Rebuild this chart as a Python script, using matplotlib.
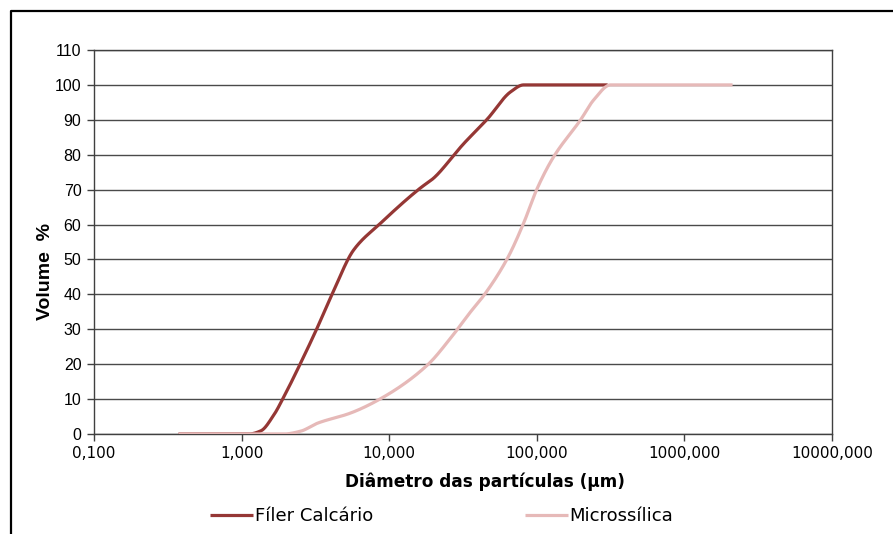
import numpy as np
import matplotlib.pyplot as plt
from matplotlib.lines import Line2D
from matplotlib.ticker import FixedLocator, NullLocator

# particle diameter (µm) and cumulative volume (%)
filer_d = [0.374, 0.8, 1.0, 1.12, 1.35, 1.65, 1.93, 2.51, 3.22, 4.14, 5.74,
           8.75, 16.3, 20.0, 26.9, 30.5, 46.4, 66.4, 81.4, 302]
filer_v = [0, 0, 0, 0, 0.9, 5.4, 10.6, 20.3, 30, 40.4, 52.7,
           60.4, 70.5, 73.3, 79.4, 82.2, 90.3, 98, 100, 100]

micro_d = [0.374, 1.93, 2.51, 3.27, 5.47, 9.16, 18.2, 26.1, 35.6, 44.3,
           63.4, 81.4, 101, 130, 198, 243, 316, 2120]
micro_v = [0, 0, 0.8, 3.1, 6, 10.6, 19.8, 27.5, 35, 40,
           50.4, 60.4, 70.5, 79.4, 90, 95.7, 100, 100]

x_ticks = [0.1, 1, 10, 100, 1000, 10000]
x_labels = ["0,100", "1,000", "10,000", "100,000", "1000,000", "10000,000"]
y_ticks = list(range(0, 111, 10))


def smooth(d, v, n=40):
    # monotone cubic (Fritsch-Carlson) through the points, in log10(d)
    x = np.log10(d)
    y = np.asarray(v, float)
    h = np.diff(x)
    s = np.diff(y) / h
    m = np.zeros_like(y)
    m[0], m[-1] = s[0], s[-1]
    for i in range(1, len(y) - 1):
        if s[i - 1] * s[i] > 0:
            w1 = 2 * h[i] + h[i - 1]
            w2 = h[i] + 2 * h[i - 1]
            m[i] = (w1 + w2) / (w1 / s[i - 1] + w2 / s[i])
    xs, ys = [], []
    for i in range(len(h)):
        t = np.linspace(0, 1, n, endpoint=False)
        h00 = 2 * t**3 - 3 * t**2 + 1
        h10 = t**3 - 2 * t**2 + t
        h01 = -2 * t**3 + 3 * t**2
        h11 = t**3 - t**2
        xs.append(x[i] + t * h[i])
        ys.append(h00 * y[i] + h10 * h[i] * m[i] + h01 * y[i + 1] + h11 * h[i] * m[i + 1])
    xs.append([x[-1]])
    ys.append([y[-1]])
    return 10 ** np.concatenate(xs), np.concatenate(ys)


fig = plt.figure(figsize=(8.93, 5.34), dpi=100)
ax = fig.add_axes([94 / 893, 100 / 534, 738 / 893, 384 / 534])

fx, fy = smooth(filer_d, filer_v)
mx, my = smooth(micro_d, micro_v)
ax.plot(fx, fy, color="#953735", lw=2.3, label="Fíler Calcário",
        solid_capstyle="butt", zorder=3)
ax.plot(mx, my, color="#E6B9B8", lw=2.3, label="Microssílica",
        solid_capstyle="butt", zorder=4)

ax.set_xscale("log")
ax.set_xlim(0.1, 10000)
ax.set_ylim(0, 110)
ax.xaxis.set_major_locator(FixedLocator(x_ticks))
ax.xaxis.set_minor_locator(NullLocator())
ax.set_xticklabels(x_labels, fontfamily="DejaVu Sans", fontsize=11)
ax.set_yticks(y_ticks)
ax.set_yticklabels([str(v) for v in y_ticks], fontfamily="Liberation Sans", fontsize=11.5)
ax.tick_params(axis="both", direction="out", length=5, width=1, color="#404040", pad=4)

ax.yaxis.grid(True, color="#4a4a4a", lw=1)
ax.set_axisbelow(True)
for side in ["left", "bottom", "right", "top"]:
    ax.spines[side].set_color("#404040")
    ax.spines[side].set_linewidth(1)

fig.text(485 / 893, 1 - 482 / 534, "Diâmetro das partículas (µm)",
         fontfamily="DejaVu Sans", fontweight="bold", fontsize=12.2,
         ha="center", va="center")
fig.text(45 / 893, 1 - 272 / 534, "Volume  %", fontfamily="Liberation Sans",
         fontweight="bold", fontsize=14, rotation=90, ha="center", va="center")

fig.legend(loc="center", bbox_to_anchor=(441.5 / 893, 1 - 516 / 534), ncol=2,
           frameon=False, prop={"family": "DejaVu Sans", "size": 13},
           handlelength=2.4, handletextpad=0.1, columnspacing=8.4)

# outer frame of the figure
fig.add_artist(Line2D([11 / 893, 11 / 893, 1], [0, 1 - 11 / 534, 1 - 11 / 534],
                      transform=fig.transFigure, color="black", lw=1.6))

fig.savefig("out.png", dpi=100)
